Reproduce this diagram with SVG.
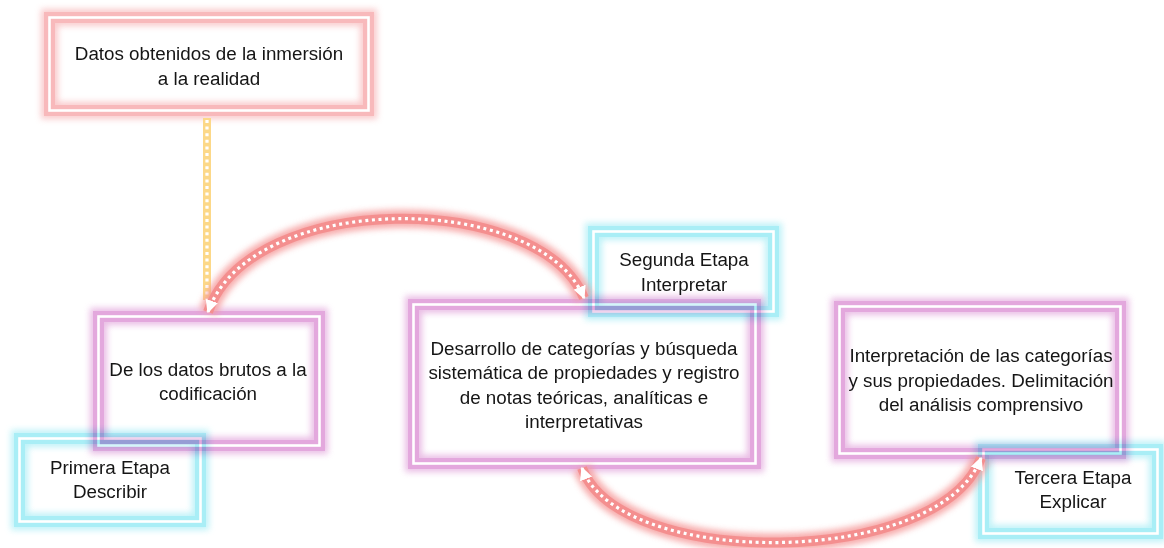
<svg xmlns="http://www.w3.org/2000/svg" width="1164" height="548" viewBox="0 0 1164 548">
<defs>
<filter id="glow" x="-20%" y="-20%" width="140%" height="140%">
<feGaussianBlur stdDeviation="3"/>
</filter>
<marker id="arr" viewBox="0 0 10 10" refX="9" refY="5" markerWidth="13" markerHeight="13" markerUnits="userSpaceOnUse" orient="auto-start-reverse">
<path d="M0,0 L10,5 L0,10 z" fill="#ffffff"/>
</marker>
</defs>
<style>
.box{mix-blend-mode:multiply}
.g{fill:none;stroke-width:17;filter:url(#glow);opacity:0.75}
.f{fill:none;stroke-width:11}
.w{fill:none;stroke:#ffffff;stroke-width:2.6}
.pink .g,.pink .f{stroke:#f8b9bb}
.purple .g,.purple .f{stroke:#e3a8dd}
.cyan .g,.cyan .f{stroke:#a9eef6}
text{font-family:"Liberation Sans",Arial,sans-serif;font-size:18.8px;fill:#151515;text-anchor:middle}
.cg{fill:none;stroke:#f59696;stroke-width:18;filter:url(#glow);opacity:0.8}
.cf{fill:none;stroke:#f48f8f;stroke-width:10}
.yg{fill:none;stroke:#fbd98a;stroke-width:14;filter:url(#glow);opacity:0.8}
.yf{fill:none;stroke:#fcd888;stroke-width:8}
.dot{fill:none;stroke:#ffffff;stroke-width:3.2;stroke-dasharray:3 3.6}
</style>
<rect width="1164" height="548" fill="#ffffff"/>

<g id="n-datos" class="box pink">
<rect class="g" x="49.5" y="17.5" width="319" height="93"/>
<rect class="f" x="49.5" y="17.5" width="319" height="93"/>
<rect class="w" x="49.5" y="17.5" width="319" height="93"/>
<text x="209" y="60">Datos obtenidos de la inmersión</text>
<text x="209" y="85">a la realidad</text>
</g>

<g id="n-codificacion" class="box purple">
<rect class="g" x="98.5" y="316.5" width="221" height="129"/>
<rect class="f" x="98.5" y="316.5" width="221" height="129"/>
<rect class="w" x="98.5" y="316.5" width="221" height="129"/>
<text x="208" y="376">De los datos brutos a la</text>
<text x="208" y="400">codificación</text>
</g>

<g id="n-desarrollo" class="box purple">
<rect class="g" x="413.5" y="304.5" width="342" height="159"/>
<rect class="f" x="413.5" y="304.5" width="342" height="159"/>
<rect class="w" x="413.5" y="304.5" width="342" height="159"/>
<text x="584" y="355">Desarrollo de categorías y búsqueda</text>
<text x="584" y="379">sistemática de propiedades y registro</text>
<text x="584" y="404">de notas teóricas, analíticas e</text>
<text x="584" y="428">interpretativas</text>
</g>

<g id="n-interpretacion" class="box purple">
<rect class="g" x="839.5" y="306.5" width="281" height="147"/>
<rect class="f" x="839.5" y="306.5" width="281" height="147"/>
<rect class="w" x="839.5" y="306.5" width="281" height="147"/>
<text x="981" y="362">Interpretación de las categorías</text>
<text x="981" y="387">y sus propiedades. Delimitación</text>
<text x="981" y="411">del análisis comprensivo</text>
</g>

<g id="n-primera" class="box cyan">
<rect class="g" x="19.5" y="438.5" width="181" height="83"/>
<rect class="f" x="19.5" y="438.5" width="181" height="83"/>
<rect class="w" x="19.5" y="438.5" width="181" height="83"/>
<text x="110" y="474">Primera Etapa</text>
<text x="110" y="498">Describir</text>
</g>

<g id="n-segunda" class="box cyan">
<rect class="g" x="593.5" y="231.5" width="180" height="80"/>
<rect class="f" x="593.5" y="231.5" width="180" height="80"/>
<rect class="w" x="593.5" y="231.5" width="180" height="80"/>
<text x="684" y="266">Segunda Etapa</text>
<text x="684" y="291">Interpretar</text>
</g>

<g id="n-tercera" class="box cyan">
<rect class="g" x="983.5" y="449.5" width="174" height="84"/>
<rect class="f" x="983.5" y="449.5" width="174" height="84"/>
<rect class="w" x="983.5" y="449.5" width="174" height="84"/>
<text x="1073" y="484">Tercera Etapa</text>
<text x="1073" y="508">Explicar</text>
</g>

<g id="connectors">
<path class="yg" d="M207,118 L207,300"/>
<path class="yf" d="M207,118 L207,300"/>
<path class="dot" d="M207,120 L207,300"/>

<path class="cg" d="M208,312 C250,190 540,190 584,298"/>
<path class="cf" d="M208,312 C250,190 540,190 584,298"/>
<path class="dot" d="M208,312 C250,190 540,190 584,298" marker-start="url(#arr)" marker-end="url(#arr)"/>

<path class="cg" d="M582,468 C620,570 940,568 981,458"/>
<path class="cf" d="M582,468 C620,570 940,568 981,458"/>
<path class="dot" d="M582,468 C620,570 940,568 981,458" marker-start="url(#arr)" marker-end="url(#arr)"/>
</g>
</svg>
